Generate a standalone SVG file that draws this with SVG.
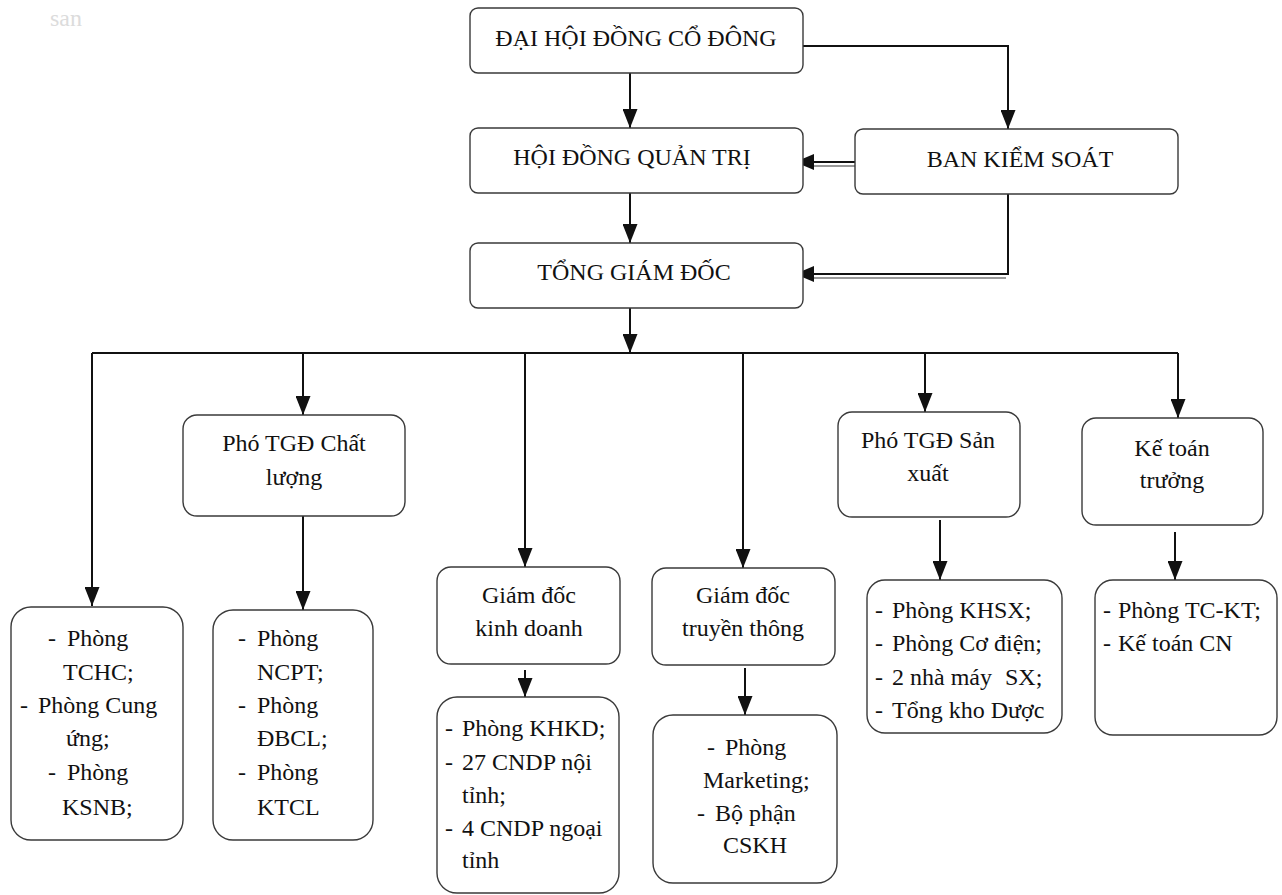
<svg xmlns="http://www.w3.org/2000/svg" width="1282" height="895" viewBox="0 0 1282 895">
<style>
.bx{fill:#fff;stroke:#3a3a3a;stroke-width:1.4}
.t{font-family:"Liberation Serif","DejaVu Serif","Noto Serif",serif;font-size:24px;fill:#111}
.c{text-anchor:middle}
.ln{stroke:#111;stroke-width:2;fill:none}
.sh{stroke:#999;stroke-width:2;fill:none}
.ghost{font-family:"Liberation Serif","DejaVu Serif",serif;font-size:24px;fill:#dcdcdc}
</style>
<defs>
<marker id="ah" markerWidth="19" markerHeight="15" refX="19" refY="7.5" orient="auto" markerUnits="userSpaceOnUse" viewBox="0 0 19 15">
<path d="M0,0 L19,7.5 L0,15 Z" fill="#111"/>
</marker>
</defs>
<rect width="1282" height="895" fill="#fff"/>
<text class="ghost" x="50" y="26">san</text>

<g id="connectors">
<path class="ln" d="M630,73 V128" marker-end="url(#ah)"/>
<path class="ln" d="M803,46 H1008 V129" marker-end="url(#ah)"/>
<path class="ln" d="M630,193 V243" marker-end="url(#ah)"/>
<path class="sh" d="M855,166 H812"/>
<path class="ln" d="M855,162 H812"/>
<path d="M814,154 L814,170 L795,162 Z" fill="#111"/>
<path class="ln" d="M1008,194 V274 H812"/>
<path class="sh" d="M1006,278 H812"/>
<path d="M814,266 L814,282 L795,274 Z" fill="#111"/>
<path class="ln" d="M630,308 V353" marker-end="url(#ah)"/>
<path class="ln" d="M92,353 H1178"/>
<path class="ln" d="M92,353 V606" marker-end="url(#ah)"/>
<path class="ln" d="M303,353 V415" marker-end="url(#ah)"/>
<path class="ln" d="M525,353 V567" marker-end="url(#ah)"/>
<path class="ln" d="M743,353 V568" marker-end="url(#ah)"/>
<path class="ln" d="M925,353 V412" marker-end="url(#ah)"/>
<path class="ln" d="M1178,353 V418" marker-end="url(#ah)"/>
<path class="ln" d="M303,516 V610" marker-end="url(#ah)"/>
<path class="ln" d="M525,670 V697" marker-end="url(#ah)"/>
<path class="ln" d="M745,668 V715" marker-end="url(#ah)"/>
<path class="ln" d="M940,520 V580" marker-end="url(#ah)"/>
<path class="ln" d="M1175,532 V580" marker-end="url(#ah)"/>
</g>

<g id="dhdcd">
<rect class="bx" x="470" y="8" width="333" height="65" rx="8"/>
<text class="t c" x="636" y="46">ĐẠI HỘI ĐỒNG CỔ ĐÔNG</text>
</g>
<g id="hdqt">
<rect class="bx" x="470" y="128" width="333" height="65" rx="8"/>
<text class="t c" x="632" y="165">HỘI ĐỒNG QUẢN TRỊ</text>
</g>
<g id="bks">
<rect class="bx" x="855" y="129" width="323" height="65" rx="8"/>
<text class="t c" x="1020" y="167">BAN KIỂM SOÁT</text>
</g>
<g id="tgd">
<rect class="bx" x="470" y="243" width="333" height="65" rx="8"/>
<text class="t c" x="634" y="280">TỔNG GIÁM ĐỐC</text>
</g>

<g id="ptgd-cl">
<rect class="bx" x="183" y="415" width="222" height="101" rx="14"/>
<text class="t c" x="294" y="451">Phó TGĐ Chất</text>
<text class="t c" x="294" y="485">lượng</text>
</g>
<g id="gdkd">
<rect class="bx" x="437" y="567" width="183" height="97" rx="14"/>
<text class="t c" x="529" y="603">Giám đốc</text>
<text class="t c" x="529" y="636">kinh doanh</text>
</g>
<g id="gdtt">
<rect class="bx" x="652" y="568" width="183" height="97" rx="14"/>
<text class="t c" x="743" y="603">Giám đốc</text>
<text class="t c" x="743" y="636">truyền thông</text>
</g>
<g id="ptgd-sx">
<rect class="bx" x="838" y="412" width="182" height="105" rx="14"/>
<text class="t c" x="928" y="448">Phó TGĐ Sản</text>
<text class="t c" x="928" y="481">xuất</text>
</g>
<g id="ktt">
<rect class="bx" x="1082" y="418" width="181" height="107" rx="14"/>
<text class="t c" x="1172" y="456">Kế toán</text>
<text class="t c" x="1172" y="488">trưởng</text>
</g>

<g id="phong-a">
<rect class="bx" x="11" y="607" width="172" height="233" rx="20"/>
<text class="t" y="646"><tspan x="48">- </tspan><tspan x="67">Phòng</tspan></text>
<text class="t" x="63" y="680">TCHC;</text>
<text class="t" y="713"><tspan x="20">- </tspan><tspan x="38">Phòng Cung</tspan></text>
<text class="t" x="66" y="746">ứng;</text>
<text class="t" y="780"><tspan x="48">- </tspan><tspan x="67">Phòng</tspan></text>
<text class="t" x="62" y="815">KSNB;</text>
</g>
<g id="phong-b">
<rect class="bx" x="213" y="610" width="160" height="230" rx="20"/>
<text class="t" y="646"><tspan x="238">- </tspan><tspan x="257">Phòng</tspan></text>
<text class="t" x="257" y="680">NCPT;</text>
<text class="t" y="713"><tspan x="238">- </tspan><tspan x="257">Phòng</tspan></text>
<text class="t" x="257" y="746">ĐBCL;</text>
<text class="t" y="780"><tspan x="238">- </tspan><tspan x="257">Phòng</tspan></text>
<text class="t" x="257" y="815">KTCL</text>
</g>
<g id="phong-kd">
<rect class="bx" x="437" y="697" width="182" height="196" rx="20"/>
<text class="t" y="736"><tspan x="445">- </tspan><tspan x="462">Phòng KHKD;</tspan></text>
<text class="t" y="770"><tspan x="445">- </tspan><tspan x="462">27 CNDP nội</tspan></text>
<text class="t" x="462" y="803">tỉnh;</text>
<text class="t" y="836"><tspan x="445">- </tspan><tspan x="462">4 CNDP ngoại</tspan></text>
<text class="t" x="462" y="868">tỉnh</text>
</g>
<g id="phong-tt">
<rect class="bx" x="653" y="715" width="184" height="168" rx="20"/>
<text class="t" y="755"><tspan x="707">- </tspan><tspan x="725">Phòng</tspan></text>
<text class="t" x="703" y="788">Marketing;</text>
<text class="t" y="821"><tspan x="697">- </tspan><tspan x="715">Bộ phận</tspan></text>
<text class="t" x="723" y="853">CSKH</text>
</g>
<g id="phong-sx">
<rect class="bx" x="867" y="580" width="195" height="153" rx="18"/>
<text class="t" y="618"><tspan x="875">- </tspan><tspan x="892">Phòng KHSX;</tspan></text>
<text class="t" y="651"><tspan x="875">- </tspan><tspan x="892">Phòng Cơ điện;</tspan></text>
<text class="t" y="685"><tspan x="875">- </tspan><tspan x="892">2 nhà máy </tspan><tspan x="1005">SX;</tspan></text>
<text class="t" y="718"><tspan x="875">- </tspan><tspan x="892">Tổng kho Dược</tspan></text>
</g>
<g id="phong-kt">
<rect class="bx" x="1095" y="580" width="182" height="155" rx="18"/>
<text class="t" y="618"><tspan x="1103">- </tspan><tspan x="1118">Phòng TC-KT;</tspan></text>
<text class="t" y="651"><tspan x="1103">- </tspan><tspan x="1118">Kế toán CN</tspan></text>
</g>
</svg>
